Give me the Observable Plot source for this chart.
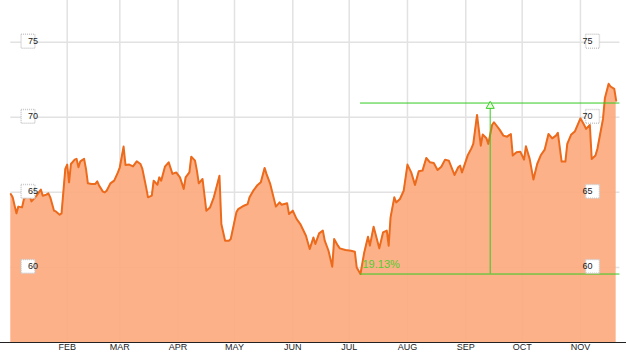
<!DOCTYPE html>
<html>
<head>
<meta charset="utf-8">
<script src="https://cdn.jsdelivr.net/npm/d3@7"></script>
<script src="https://cdn.jsdelivr.net/npm/@observablehq/plot@0.6"></script>
<style>
  html, body { margin: 0; padding: 0; background: white; }
</style>
</head>
<body>
<div id="chart"></div>
<script>
// ---- data (days since 1 Jan, price) ----
const startDate = "2010-01-01";
const days = [1,2,4,5,7,8,9,11,12,14,17,18,20,21,22,24,25,27,28,30,31,32,33,35,36,37,38,40,41,42,44,46,47,48,50,51,52,54,56,58,59,61,62,64,66,68,70,71,73,74,76,77,79,80,81,83,85,87,89,91,93,94,96,97,99,100,101,103,105,107,109,112,113,115,117,118,121,122,125,127,128,130,132,134,136,137,139,142,144,145,148,149,151,153,155,158,160,162,163,165,167,168,170,172,173,175,176,179,182,184,185,187,189,191,192,194,197,199,201,202,203,205,206,208,210,212,214,216,218,220,222,224,226,228,230,232,234,237,239,240,241,244,246,247,249,251,252,254,255,257,258,261,263,265,267,268,270,272,274,275,277,279,281,283,285,287,289,291,292,294,296,297,299,301,304,306,307,309,310,312,313,316,317,319,320,322,323];
const prices = [64.89,64.67,63.60,64.05,64.00,64.56,64.67,64.78,64.40,64.67,65.18,64.78,64.85,64.93,64.67,63.78,63.73,63.51,63.60,66.56,66.85,65.67,66.89,67.18,67.23,66.67,67.07,67.23,66.56,65.60,65.56,65.56,65.73,65.45,65.05,65.00,65.11,65.60,65.78,66.33,66.67,68.05,66.83,66.85,66.73,67.07,66.89,66.56,65.33,64.67,64.78,65.78,65.51,66.00,65.78,66.71,67.00,66.23,66.33,66.00,65.23,66.00,66.33,67.38,67.11,66.45,65.60,65.89,63.78,64.00,64.67,66.11,62.89,61.78,61.78,61.89,63.67,63.89,64.11,64.22,64.67,65.11,65.45,65.67,66.63,66.23,65.56,64.05,64.33,64.18,64.27,63.56,63.78,63.23,62.89,62.11,61.23,62.00,61.56,62.27,62.45,61.78,61.11,60.05,61.89,61.45,61.27,61.16,61.11,61.05,60.00,59.56,61.00,62.05,61.45,62.71,61.27,62.33,62.45,61.45,63.33,64.67,64.33,64.56,65.11,66.85,66.33,65.50,66.40,66.45,67.29,67.00,66.96,66.49,66.71,67.18,67.11,66.16,66.67,66.78,66.33,67.45,67.93,68.23,70.16,68.11,68.85,68.60,68.23,69.49,69.67,69.18,68.78,68.71,68.89,67.45,67.67,67.71,67.18,68.07,67.23,65.85,66.89,67.49,67.85,68.89,68.60,68.78,68.96,67.05,67.05,68.23,68.83,69.05,69.93,69.49,69.23,69.49,67.23,67.45,67.89,69.89,71.27,72.23,72.05,71.89,71.11];

const monthTicks = ["2010-02-01","2010-03-01","2010-04-01","2010-05-01","2010-06-01","2010-07-01","2010-08-01","2010-09-01","2010-10-01","2010-11-01"];
const monthLabels = ["FEB","MAR","APR","MAY","JUN","JUL","AUG","SEP","OCT","NOV"];
const yTicks = [60, 65, 70, 75];
const yDomain = [55, 77.78];
const xDomain = ["2009-12-27T12:43Z", "2010-11-25T12:00Z"];

// annotation (percent change measurement)
const lowRef = 59.56, highRef = 70.95;
const annStartDay = 187, annEndDay = 325, annMidDay = 256;
const gridStartDay = 1, gridEndDay = 325;
const annText = "19.13%";

// ---- build ----
const t0 = new Date(startDate + "T00:00Z").getTime();
const dayToDate = d => new Date(t0 + d * 864e5);
const series = days.map((d, i) => ({date: dayToDate(d), price: prices[i]}));
const months = monthTicks.map((m, i) => ({date: new Date(m + "T00:00Z"), label: monthLabels[i]}));

const green = "#33cc22";

const chart = Plot.plot({
  width: 626,
  height: 357,
  marginTop: 0,
  marginBottom: 15,
  marginLeft: 0,
  marginRight: 0,
  x: {type: "utc", domain: xDomain.map(s => new Date(s)), axis: null},
  y: {domain: yDomain, axis: null},
  style: {fontFamily: "'Liberation Sans', Arial, sans-serif", fontSize: "9px", background: "white", overflow: "visible"},
  marks: [
    Plot.ruleX(months, {x: "date", stroke: "#e2e2e2", strokeWidth: 1.5}),
    Plot.ruleY(yTicks, {x1: dayToDate(gridStartDay), x2: dayToDate(gridEndDay), stroke: "#e2e2e2", strokeWidth: 1.5}),
    Plot.areaY(series, {x: "date", y: "price", fill: "#fcab7f", fillOpacity: 0.93, clip: true}),
    Plot.lineY(series, {x: "date", y: "price", stroke: "#ec6a1c", strokeWidth: 2}),
    Plot.ruleY([yDomain[0]], {stroke: "#222", strokeWidth: 1}),
    // annotation
    Plot.ruleY([lowRef, highRef], {x1: dayToDate(annStartDay), x2: dayToDate(annEndDay), stroke: green, strokeWidth: 1}),
    Plot.ruleX([dayToDate(annMidDay)], {y1: lowRef, y2: highRef, stroke: green, strokeWidth: 1}),
    Plot.dot([dayToDate(annMidDay)], {x: d => d, y: highRef, symbol: "triangle", r: 3, stroke: green, fill: "#eaffe0", strokeWidth: 1, dy: 3}),
    Plot.text([annText], {x: dayToDate(annStartDay), y: lowRef, text: d => d, dx: 2, dy: -10, textAnchor: "start", fill: "#55cc33", fontSize: 11}),
    // y labels (boxed), left and right
    Plot.dot(yTicks, {y: d => d, frameAnchor: "left", dx: 27.5, dy: -1, symbol: "square", r: 7.8, fill: "white", stroke: "#c8c8c8", strokeDasharray: "1,1"}),
    Plot.text(yTicks, {y: d => d, frameAnchor: "left", dx: 27.5, dy: -1, text: d => String(d), fill: "#222", fontSize: 9}),
    Plot.dot(yTicks, {y: d => d, frameAnchor: "right", dx: -34, dy: -1, symbol: "square", r: 7.8, fill: "white", stroke: "#c8c8c8", strokeDasharray: "1,1"}),
    Plot.text(yTicks, {y: d => d, frameAnchor: "right", dx: -34, dy: -1, text: d => String(d), fill: "#222", fontSize: 9}),
    // x labels
    Plot.text(months, {x: "date", text: "label", frameAnchor: "bottom", dy: 7.5, fill: "#222", fontSize: 9})
  ]
});
document.getElementById("chart").appendChild(chart);
</script>
</body>
</html>
